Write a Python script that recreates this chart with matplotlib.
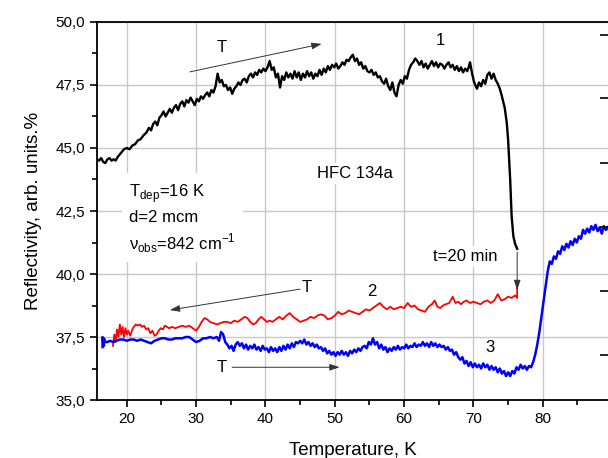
import matplotlib
matplotlib.use("Agg")
import matplotlib.pyplot as plt
from matplotlib.ticker import MultipleLocator, FuncFormatter

plt.rcParams["font.family"] = ["Liberation Sans", "DejaVu Sans"]

# curve 1: heating of the deposited film (black)
t1 = [15.7, 16.0, 16.3, 16.6, 16.9, 17.2, 17.5, 17.8, 18.1, 18.4, 18.7, 19.0, 19.3, 19.6,
      20.0, 20.4, 20.8, 21.2, 21.6, 22.0, 22.4, 22.8, 23.2, 23.5, 23.8, 24.1, 24.4, 24.7,
      25.0, 25.3, 25.6, 25.9, 26.2, 26.5, 26.8, 27.1, 27.4, 27.7, 28.0, 28.3, 28.6, 28.9,
      29.2, 29.5, 29.8, 30.1, 30.4, 30.7, 31.0, 31.3, 31.6, 31.9, 32.2, 32.5, 32.8, 33.1,
      33.4, 33.7, 34.0, 34.3, 34.6, 34.9, 35.2, 35.5, 35.8, 36.1, 36.4, 36.7, 37.0, 37.3,
      37.6, 37.9, 38.2, 38.5, 38.8, 39.1, 39.4, 39.7, 40.0, 40.3, 40.6, 40.9, 41.2, 41.5,
      41.8, 42.1, 42.4, 42.7, 43.0, 43.3, 43.6, 43.9, 44.2, 44.5, 44.8, 45.1, 45.4, 45.7,
      46.0, 46.3, 46.6, 46.9, 47.2, 47.5, 47.8, 48.1, 48.4, 48.7, 49.0, 49.3, 49.6, 49.9,
      50.2, 50.5, 50.8, 51.1, 51.4, 51.7, 52.0, 52.3, 52.6, 52.9, 53.2, 53.5, 53.8, 54.1,
      54.4, 54.7, 55.0, 55.3, 55.6, 55.9, 56.2, 56.5, 56.8, 57.1, 57.4, 57.7, 58.0, 58.3,
      58.6, 58.9, 59.2, 59.5, 59.8, 60.1, 60.4, 60.7, 61.0, 61.3, 61.6, 61.9, 62.2, 62.5,
      62.8, 63.1, 63.4, 63.7, 64.0, 64.3, 64.6, 64.9, 65.2, 65.5, 65.8, 66.1, 66.4, 66.7,
      67.0, 67.3, 67.6, 67.9, 68.2, 68.5, 68.8, 69.1, 69.3, 69.5, 69.8, 70.1, 70.5, 70.8,
      71.1, 71.4, 71.7, 72.0, 72.3, 72.6, 72.9, 73.2, 73.5, 73.8, 74.1, 74.5, 74.8, 75.0,
      75.15, 75.3, 75.5, 75.75, 76.0, 76.3]
r1 = [44.55, 44.5, 44.6, 44.45, 44.4, 44.55, 44.6, 44.5, 44.55, 44.5, 44.65, 44.75, 44.85, 44.95,
      45.0, 44.95, 45.1, 45.15, 45.3, 45.35, 45.5, 45.6, 45.8, 45.7, 45.95, 46.05, 45.9, 46.2,
      46.3, 46.45, 46.25, 46.4, 46.55, 46.4, 46.6, 46.7, 46.5, 46.75, 46.85, 46.65, 46.9, 46.8,
      47.0, 46.85, 46.7, 46.95, 46.85, 47.05, 46.95, 47.1, 47.2, 47.05, 47.3, 47.2, 47.45, 47.95,
      47.6, 47.7, 47.45, 47.5, 47.3, 47.4, 47.15, 47.35, 47.45, 47.6, 47.5, 47.7, 47.75, 47.6,
      47.85, 47.95, 47.8, 48.0, 47.9, 48.1, 48.0, 48.15, 48.05, 48.2, 48.45, 48.1, 48.2, 47.8,
      47.95, 47.4, 47.85, 47.7, 48.0, 47.8, 47.95, 47.75, 48.05, 47.8, 48.0, 47.7, 47.95, 47.8,
      48.05, 47.85, 48.0, 47.75, 47.95, 47.85, 48.1, 47.9, 48.15, 48.0, 48.25, 48.1, 48.3, 48.2,
      48.35, 48.15, 48.25, 48.4, 48.3, 48.5, 48.45, 48.6, 48.7, 48.45, 48.55, 48.3, 48.4, 48.15,
      48.25, 48.05, 48.0, 48.1, 47.9, 48.0, 47.8, 47.85, 47.65, 47.55, 47.75, 47.45, 47.3, 47.6,
      47.2, 47.05, 47.5, 47.7, 47.55, 47.85, 47.75, 48.1, 48.3, 48.4, 48.55, 48.45, 48.3, 48.45,
      48.2, 48.35, 48.15, 48.3, 48.45, 48.25, 48.4, 48.2, 48.35, 48.3, 48.15, 48.3, 48.4, 48.2,
      48.3, 48.1, 48.25, 48.05, 48.2, 48.0, 48.15, 48.05, 48.2, 48.4, 47.95, 47.6, 47.35, 47.6,
      47.45, 47.7, 47.55, 47.9, 48.0, 47.75, 47.95, 47.7, 47.55, 47.35, 47.05, 46.6, 46.0, 45.3,
      44.5, 43.7, 42.3, 41.5, 41.2, 41.0]

# curve 2: cooling after 20 min hold (red)
t2 = [18.0, 18.2, 18.4, 18.6, 18.8, 19.0, 19.2, 19.4, 19.6, 19.8, 20.0, 20.2, 20.5, 20.8,
      21.0, 21.3, 21.6, 21.9, 22.2, 22.5, 22.8, 23.1, 23.4, 23.7, 24.0, 24.3, 24.6, 24.9,
      25.2, 25.5, 25.8, 26.1, 26.5, 27.0, 27.5, 28.0, 28.5, 29.0, 29.5, 30.0, 30.4, 30.8,
      31.2, 31.6, 32.0, 32.5, 33.0, 33.5, 34.0, 34.5, 35.0, 35.5, 36.0, 36.5, 37.0, 37.4,
      37.8, 38.2, 38.6, 39.0, 39.4, 39.8, 40.2, 40.6, 41.0, 41.5, 42.0, 42.5, 43.0, 43.5,
      44.0, 44.5, 45.0, 45.5, 46.0, 46.5, 47.0, 47.5, 48.0, 48.5, 49.0, 49.5, 50.0, 50.5,
      51.0, 51.5, 52.0, 52.5, 53.0, 53.5, 54.0, 54.5, 55.0, 55.5, 56.0, 56.5, 57.0, 57.5,
      58.0, 58.5, 59.0, 59.5, 60.0, 60.5, 61.0, 61.5, 62.0, 62.5, 63.0, 63.5, 64.0, 64.4,
      64.8, 65.2, 65.6, 66.0, 66.5, 67.0, 67.4, 67.8, 68.2, 68.6, 69.0, 69.5, 70.0, 70.5,
      71.0, 71.5, 72.0, 72.5, 73.0, 73.5, 74.0, 74.5, 75.0, 75.5, 76.0, 76.3, 76.3]
r2 = [37.15, 37.6, 37.3, 37.8, 37.5, 38.0, 37.6, 37.9, 37.5, 37.85, 37.6, 37.75, 37.55, 37.8,
      37.9, 38.0, 37.95, 38.0, 37.9, 37.95, 37.8, 37.85, 37.65, 37.75, 37.55, 37.6, 37.75, 37.85,
      37.8, 37.95, 37.9, 37.85, 37.9, 37.85, 37.9, 37.95, 37.9, 37.95, 37.85, 37.75, 37.9, 38.1,
      38.25, 38.2, 38.1, 38.05, 38.0, 38.05, 38.1, 38.1, 38.05, 38.15, 38.1, 38.2, 38.3, 38.25,
      38.1, 38.0, 38.05, 38.2, 38.3, 38.2, 38.1, 38.15, 38.1, 38.2, 38.3, 38.2, 38.35, 38.45,
      38.3, 38.2, 38.1, 38.15, 38.2, 38.3, 38.25, 38.35, 38.4, 38.35, 38.2, 38.25, 38.35, 38.5,
      38.4, 38.45, 38.55, 38.5, 38.45, 38.4, 38.5, 38.6, 38.55, 38.65, 38.75, 38.85, 38.7, 38.6,
      38.7, 38.6, 38.65, 38.7, 38.65, 38.85, 38.7, 38.75, 38.6, 38.55, 38.5, 38.7, 38.8, 38.95,
      38.7, 38.65, 38.75, 38.8, 38.85, 39.1, 38.85, 38.9, 38.8, 38.9, 38.95, 38.85, 38.9, 38.85,
      38.8, 38.9, 38.95, 38.85, 38.95, 39.2, 38.95, 39.0, 39.1, 39.05, 39.15, 39.05, 39.5]

# curve 3: second heating (blue)
t3 = [16.5, 16.5, 16.7, 16.7, 16.9, 17.2, 17.6, 18.0, 18.5, 19.0, 19.5, 20.0, 20.5, 21.0,
      21.5, 22.0, 22.5, 23.0, 23.5, 24.0, 24.5, 25.0, 25.5, 26.0, 26.5, 27.0, 27.5, 28.0,
      28.5, 29.0, 29.5, 30.0, 30.5, 31.0, 31.5, 32.0, 32.5, 33.0, 33.3, 33.6, 33.9, 34.2,
      34.5, 34.8, 35.1, 35.4, 35.7, 36.0, 36.3, 36.6, 36.9, 37.2, 37.5, 37.8, 38.1, 38.4,
      38.7, 39.0, 39.3, 39.6, 39.9, 40.2, 40.5, 40.8, 41.1, 41.4, 41.7, 42.0, 42.3, 42.6,
      42.9, 43.2, 43.5, 43.8, 44.1, 44.4, 44.7, 45.0, 45.3, 45.6, 45.9, 46.2, 46.5, 46.8,
      47.1, 47.4, 47.7, 48.0, 48.3, 48.6, 48.9, 49.2, 49.5, 49.8, 50.1, 50.4, 50.7, 51.0,
      51.3, 51.6, 51.9, 52.2, 52.5, 52.8, 53.1, 53.4, 53.7, 54.0, 54.3, 54.6, 54.9, 55.2,
      55.5, 55.8, 56.1, 56.4, 56.7, 57.0, 57.3, 57.6, 57.9, 58.2, 58.5, 58.8, 59.1, 59.4,
      59.7, 60.0, 60.3, 60.6, 60.9, 61.2, 61.5, 61.8, 62.1, 62.4, 62.7, 63.0, 63.3, 63.6,
      63.9, 64.2, 64.5, 64.8, 65.1, 65.4, 65.7, 66.0, 66.3, 66.6, 66.9, 67.2, 67.5, 67.8,
      68.1, 68.4, 68.7, 69.0, 69.3, 69.6, 69.9, 70.2, 70.5, 70.8, 71.1, 71.4, 71.7, 72.0,
      72.3, 72.6, 72.9, 73.2, 73.5, 73.8, 74.1, 74.4, 74.7, 75.0, 75.3, 75.6, 75.9, 76.2,
      76.5, 76.8, 77.1, 77.4, 77.7, 78.0, 78.3, 78.6, 78.9, 79.2, 79.5, 79.8, 80.1, 80.4,
      80.7, 81.0, 81.3, 81.6, 81.9, 82.2, 82.5, 82.8, 83.1, 83.4, 83.7, 84.0, 84.3, 84.6,
      84.9, 85.2, 85.5, 85.8, 86.1, 86.4, 86.7, 87.0, 87.3, 87.6, 87.9, 88.2, 88.5, 88.8,
      89.1, 89.4]
r3 = [37.1, 37.5, 37.15, 37.45, 37.3, 37.3, 37.35, 37.3, 37.35, 37.4, 37.4, 37.35, 37.4, 37.4,
      37.35, 37.4, 37.35, 37.3, 37.25, 37.35, 37.4, 37.45, 37.45, 37.4, 37.4, 37.45, 37.45, 37.45,
      37.5, 37.5, 37.4, 37.3, 37.35, 37.45, 37.45, 37.5, 37.45, 37.5, 37.35, 37.7, 37.6, 37.3,
      37.2, 37.05, 37.15, 36.95, 37.2, 37.3, 37.15, 37.25, 37.05, 37.2, 37.0, 37.15, 37.05, 37.2,
      37.0, 37.1, 36.95, 37.15, 37.0, 37.05, 36.9, 37.1, 36.95, 37.05, 36.9, 37.1, 36.95, 37.15,
      37.0, 37.2, 37.05, 37.25, 37.1, 37.3, 37.25, 37.35, 37.25, 37.4, 37.2, 37.3, 37.15, 37.25,
      37.1, 37.2, 37.05, 37.1, 36.95, 37.05, 36.85, 36.95, 36.8, 36.9, 36.75, 36.9, 36.8, 36.95,
      36.8, 36.9, 36.75, 36.95, 36.85, 37.0, 36.9, 37.05, 36.95, 37.1, 37.15, 37.05, 37.3, 37.2,
      37.45, 37.2, 37.3, 37.05, 37.2, 37.0, 37.1, 36.9, 37.05, 36.95, 37.1, 37.0, 37.15, 37.0,
      37.1, 37.05, 37.2, 37.05, 37.15, 37.1, 37.25, 37.1, 37.2, 37.15, 37.3, 37.15, 37.25, 37.1,
      37.3, 37.15, 37.25, 37.1, 37.2, 37.1, 37.15, 37.0, 37.1, 36.95, 37.0, 36.8, 36.9, 36.7,
      36.6, 36.7, 36.45, 36.55, 36.35, 36.5, 36.3, 36.45, 36.3, 36.4, 36.25, 36.45, 36.3, 36.4,
      36.2, 36.35, 36.2, 36.3, 36.1, 36.25, 36.05, 36.15, 35.95, 36.1, 35.95, 36.15, 36.05, 36.3,
      36.2, 36.4, 36.25, 36.35, 36.2, 36.35, 36.3, 36.5, 36.8, 37.2, 37.7, 38.3, 38.9, 39.5,
      40.1, 40.5, 40.4, 40.7, 40.6, 40.9, 40.8, 41.1, 40.95, 41.2, 41.05, 41.3, 41.15, 41.4,
      41.25, 41.5, 41.4, 41.75, 41.6, 41.8, 41.65, 41.9, 41.75, 41.95, 41.7, 41.85, 41.6, 41.9,
      41.75, 41.85]

fig = plt.figure(figsize=(6.08, 4.58), dpi=100)
ax = fig.add_axes([0.1595, 0.1266, 0.8405, 0.8254])

ax.plot(t1, r1, color="black", lw=1.7, zorder=3)
ax.plot(t2, r2, color="#ff0000", lw=1.3, zorder=3)
ax.plot(t3, r3, color="#0000ff", lw=1.8, zorder=3)

ax.set_xlim(15.7, 89.4)
ax.set_ylim(35.0, 50.0)
ax.xaxis.set_major_locator(MultipleLocator(10))
ax.xaxis.set_minor_locator(MultipleLocator(5))
ax.yaxis.set_major_locator(MultipleLocator(2.5))
ax.yaxis.set_minor_locator(MultipleLocator(1.25))
ax.yaxis.set_major_formatter(FuncFormatter(lambda v, p: f"{v:.1f}".replace(".", ",")))
ax.grid(True, which="major", color="#c8c8c8", lw=1.0, zorder=0)
ax.tick_params(axis="both", which="major", direction="out", length=5, width=1.2,
               labelsize=11, top=False, right=False)
ax.tick_params(axis="both", which="minor", direction="out", length=3.5, width=1.2,
               top=False, right=False)
for s in ["left", "bottom", "top"]:
    ax.spines[s].set_linewidth(1.3)
ax.spines["right"].set_visible(False)

# ticks of the neighbouring panel on the right edge
ax2 = ax.twinx()
ax2.set_ylim(35.0, 50.0)
ax2.set_yticks([36.8, 39.33, 41.87, 44.4, 46.98, 49.48])
ax2.tick_params(axis="y", direction="in", length=6, width=1.2, labelright=False)
ax2.spines["right"].set_visible(False)
for s in ["left", "bottom", "top"]:
    ax2.spines[s].set_visible(False)

ax.set_xlabel("Temperature, K", fontsize=13.5, labelpad=12)
ax.set_ylabel("Reflectivity, arb. units.%", fontsize=13.5, labelpad=10)

box = dict(facecolor="white", edgecolor="none", pad=2)
ax.text(47.4, 44.0, "HFC 134a", fontsize=12, va="center", ha="left", bbox=box, zorder=2)
ax.text(20.3, 42.2, "T$_{\\mathregular{dep}}$=16 K\nd=2 mcm\nν$_{\\mathregular{obs}}$=842 cm$^{\\mathregular{-1}}$",
        fontsize=12, va="center", ha="left", linespacing=1.35,
        bbox=dict(facecolor="white", edgecolor="none", pad=5), zorder=2)
ax.text(64.2, 40.7, "t=20 min", fontsize=12, va="center", ha="left", bbox=box, zorder=2)
ax.text(65.2, 49.25, "1", fontsize=12, va="center", ha="center")
ax.text(55.4, 39.3, "2", fontsize=12, va="center", ha="center")
ax.text(72.4, 37.1, "3", fontsize=12, va="center", ha="center")
ax.text(33.7, 49.0, "T", fontsize=12, va="center", ha="center")
ax.text(45.9, 39.45, "T", fontsize=12, va="center", ha="center")
ax.text(33.7, 36.3, "T", fontsize=12, va="center", ha="center")

arr = dict(arrowstyle="-|>,head_length=0.6,head_width=0.2", color="#333333", lw=0.7,
           shrinkA=0, shrinkB=0)
ax.annotate("", xy=(48.1, 49.13), xytext=(29.1, 48.02), arrowprops=arr)
ax.annotate("", xy=(26.2, 38.57), xytext=(45.0, 39.4), arrowprops=arr)
ax.annotate("", xy=(50.7, 36.3), xytext=(35.2, 36.3), arrowprops=arr)
ax.annotate("", xy=(76.3, 39.36), xytext=(76.3, 40.87), arrowprops=arr)

fig.savefig("out.png", dpi=100)
